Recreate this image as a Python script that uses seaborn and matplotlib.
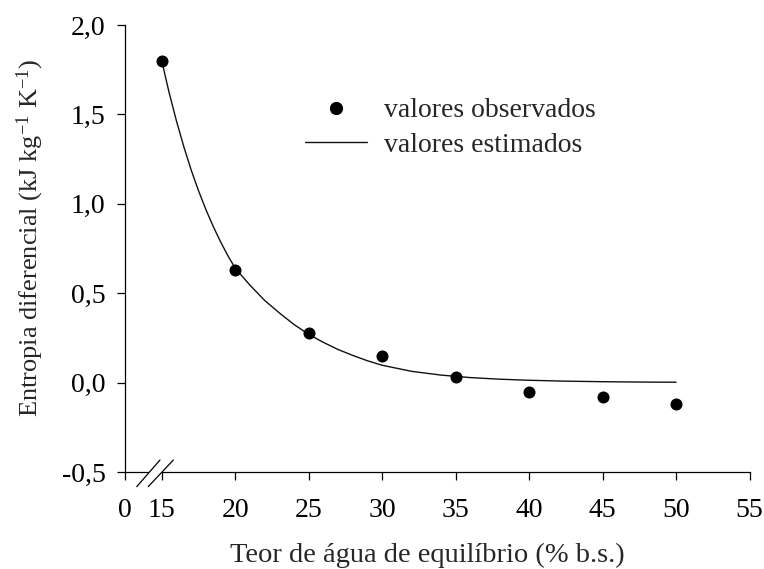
import numpy as np
import pandas as pd
import matplotlib
matplotlib.use("Agg")
import matplotlib.pyplot as plt
from matplotlib.patches import Polygon
from matplotlib.lines import Line2D
import seaborn as sns

# Observed differential entropy
teor_obs = [15, 20, 25, 30, 35, 40, 45, 50]
entropia_obs = [1.80, 0.63, 0.28, 0.15, 0.03, -0.05, -0.08, -0.12]

# Estimated (model) curve
teor_est = [15, 15.5, 16, 16.5, 17, 17.5, 18, 18.5, 19, 19.5, 20,
            21, 22, 23, 24, 25, 26, 27, 28, 29, 30,
            32, 34, 36, 38, 40, 42.5, 45, 47.5, 50]
entropia_est = [1.80, 1.623, 1.464, 1.32, 1.19, 1.074, 0.969, 0.874, 0.788, 0.71, 0.64,
                0.545, 0.46, 0.39, 0.325, 0.27, 0.225, 0.185, 0.152, 0.122, 0.097,
                0.063, 0.042, 0.028, 0.019, 0.013, 0.008, 0.005, 0.003, 0.002]

# Axis ticks (the x axis is broken between 0 and 15)
x_origin = 12.5
xtick_pos = [x_origin, 15, 20, 25, 30, 35, 40, 45, 50, 55]
xtick_labels = ["0", "15", "20", "25", "30", "35", "40", "45", "50", "55"]
ytick_pos = [-0.5, 0.0, 0.5, 1.0, 1.5, 2.0]
ytick_labels = ["-0,5", "0,0", "0,5", "1,0", "1,5", "2,0"]

sns.set_style("ticks")
plt.rcParams["font.family"] = ["Liberation Serif", "DejaVu Serif"]
plt.rcParams["mathtext.fontset"] = "custom"
plt.rcParams["mathtext.rm"] = "Liberation Serif"
plt.rcParams["mathtext.it"] = "Liberation Serif:italic"

FS = 20

obs = pd.DataFrame({"teor": teor_obs, "entropia": entropia_obs})
est = pd.DataFrame({"teor": teor_est, "entropia": entropia_est})

fig = plt.figure(figsize=(7.64, 5.69), dpi=100)
ax = fig.add_axes([0.1636, 0.1705, 0.8175, 0.7855])

sns.lineplot(data=est, x="teor", y="entropia", ax=ax, color="#111111",
             linewidth=1.0, sort=False, estimator=None, zorder=2)
sns.scatterplot(data=obs, x="teor", y="entropia", ax=ax, color="black",
                edgecolor="black", s=75, linewidth=0, zorder=3)

ax.set_xlim(x_origin, 55)
ax.set_ylim(-0.5, 2.0)
ax.set_xticks(xtick_pos)
ax.set_xticklabels(xtick_labels)
ax.set_yticks(ytick_pos)
ax.set_yticklabels(ytick_labels)
ax.tick_params(axis="both", direction="out", length=6, width=0.9,
               labelsize=FS, colors="black")
ax.tick_params(axis="x", pad=13)
ax.tick_params(axis="y", pad=8)
for side in ("top", "right"):
    ax.spines[side].set_visible(False)
for side in ("left", "bottom"):
    ax.spines[side].set_linewidth(0.9)
    ax.spines[side].set_color("black")

ax.set_xlabel("Teor de água de equilíbrio (% b.s.)", fontsize=20.5, labelpad=14)
ax.set_ylabel("Entropia diferencial (kJ kg$^{-1}$ K$^{-1}$)", fontsize=19, labelpad=11)
ax.xaxis.label.set_x(0.4836)
ax.yaxis.label.set_y(0.5246)

# Axis break marks on the x axis
brk = Polygon([[13.3, -0.582], [14.08, -0.582], [15.79, -0.433], [14.88, -0.433]],
              closed=True, facecolor="white", edgecolor="none",
              clip_on=False, zorder=5)
ax.add_patch(brk)
for xa, xb in ((13.3, 14.88), (14.08, 15.79)):
    ax.add_line(Line2D([xa, xb], [-0.582, -0.433], color="black",
                       linewidth=0.9, clip_on=False, zorder=6))

handles = [
    Line2D([], [], linestyle="none", marker="o", markersize=8.5,
           color="black"),
    Line2D([], [], color="#111111", linewidth=1.0),
]
ax.legend(handles, ["valores observados", "valores estimados"],
          loc="upper left", bbox_to_anchor=(0.288, 0.837), frameon=False,
          fontsize=FS, handlelength=2.25, handletextpad=0.6,
          borderpad=0, borderaxespad=0, labelspacing=0.33)

fig.savefig("out.png", dpi=100)
